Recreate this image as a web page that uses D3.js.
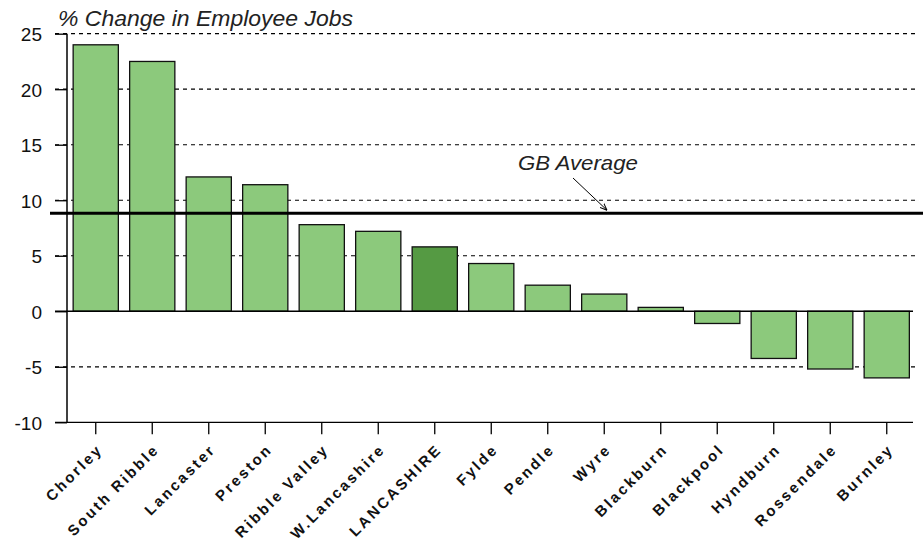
<!DOCTYPE html>
<html><head><meta charset="utf-8">
<script src="https://cdn.jsdelivr.net/npm/d3@7"></script>
<style>body{margin:0;background:#fff}svg{display:block}</style>
</head><body><svg id="c" width="923" height="547"></svg>
<script>
const categories = ["Chorley","South Ribble","Lancaster","Preston","Ribble Valley","W.Lancashire","LANCASHIRE","Fylde","Pendle","Wyre","Blackburn","Blackpool","Hyndburn","Rossendale","Burnley"];
const values = [24.0,22.5,12.1,11.4,7.8,7.2,5.8,4.3,2.35,1.55,0.35,-1.1,-4.25,-5.2,-6.0];
const highlight = ["LANCASHIRE"];
const yTicks = [-10,-5,0,5,10,15,20,25];
const gbAverage = 8.83;
const yTitle = "% Change in Employee Jobs";
const gbLabel = "GB Average";

const svg = d3.select("#c");
const x = d3.scaleBand().domain(categories).range([67.5, 915]).paddingInner(0.2).paddingOuter(0.1);
const y = d3.scaleLinear().domain([-10,25]).range([422.3,33.7]);

// gridlines
svg.append("g").selectAll("line").data(yTicks.filter(d=>d!==0 && d!==-10)).join("line")
  .attr("x1",55).attr("x2",918).attr("y1",d=>y(d)).attr("y2",d=>y(d))
  .attr("stroke","#000").attr("stroke-width",1.2).attr("stroke-dasharray","4,4");

// bars
svg.append("g").selectAll("rect").data(categories).join("rect")
  .attr("x",d=>x(d)).attr("width",x.bandwidth())
  .attr("y",(d,i)=>y(Math.max(0,values[i])))
  .attr("height",(d,i)=>Math.abs(y(values[i])-y(0)))
  .attr("fill",d=>highlight.includes(d)?"#559a43":"#8cc97c")
  .attr("stroke","#111").attr("stroke-width",1.3);

// zero line
svg.append("line").attr("x1",55).attr("x2",913).attr("y1",y(0)).attr("y2",y(0)).attr("stroke","#000").attr("stroke-width",1.3);

// y axis
const ya = d3.axisLeft(y).tickValues(yTicks).tickSize(12).tickPadding(13).tickFormat(d=>String(d));
const gy = svg.append("g").attr("transform","translate(67,0)").call(ya);
gy.select(".domain").attr("d",`M0,${y(25)}V${y(-10)}`).attr("stroke","#000").attr("stroke-width",1.5);
gy.selectAll(".tick line").attr("stroke","#000").attr("stroke-width",1.3);
gy.selectAll("text").attr("font-family","Liberation Sans, Arial, sans-serif").attr("font-size",19).attr("fill","#111").attr("dy","0.36em");

// x axis
const xa = d3.axisBottom(x).tickSize(12).tickSizeOuter(0);
const gx = svg.append("g").attr("transform",`translate(0,${y(-10)})`).call(xa);
gx.select(".domain").attr("d","M55,0H913").attr("stroke","#000").attr("stroke-width",1.3);
gx.selectAll(".tick line").attr("stroke","#000").attr("stroke-width",1.3);
gx.selectAll("text").attr("font-family","Liberation Sans, Arial, sans-serif").attr("font-size",15)
  .attr("font-weight","bold").attr("letter-spacing","2.5px").attr("fill","#111")
  .attr("text-anchor","end").attr("dy",null).attr("y",null)
  .attr("transform","translate(8,28) rotate(-45)");

// GB average line
svg.append("line").attr("x1",50).attr("x2",923).attr("y1",y(gbAverage)).attr("y2",y(gbAverage)).attr("stroke","#000").attr("stroke-width",3);

// annotation
svg.append("text").attr("x",518).attr("y",170).attr("font-family","Liberation Sans, Arial, sans-serif")
  .attr("font-style","italic").attr("font-size",21).attr("fill","#222")
  .attr("textLength",120).attr("lengthAdjust","spacingAndGlyphs").text(gbLabel);
svg.append("defs").append("marker").attr("id","ah").attr("viewBox","0 0 10 10").attr("refX",10).attr("refY",5)
  .attr("markerWidth",7).attr("markerHeight",7).attr("orient","auto")
  .append("path").attr("d","M0,1L10,5L0,9").attr("fill","none").attr("stroke","#000").attr("stroke-width",1.5);
svg.append("line").attr("x1",573).attr("y1",178).attr("x2",607).attr("y2",y(gbAverage)-3)
  .attr("stroke","#000").attr("stroke-width",1).attr("marker-end","url(#ah)");

// title
svg.append("text").attr("x",58).attr("y",26).attr("font-family","Liberation Sans, Arial, sans-serif")
  .attr("font-style","italic").attr("font-size",22).attr("fill","#222")
  .attr("textLength",295).attr("lengthAdjust","spacingAndGlyphs").text(yTitle);
</script></body></html>
